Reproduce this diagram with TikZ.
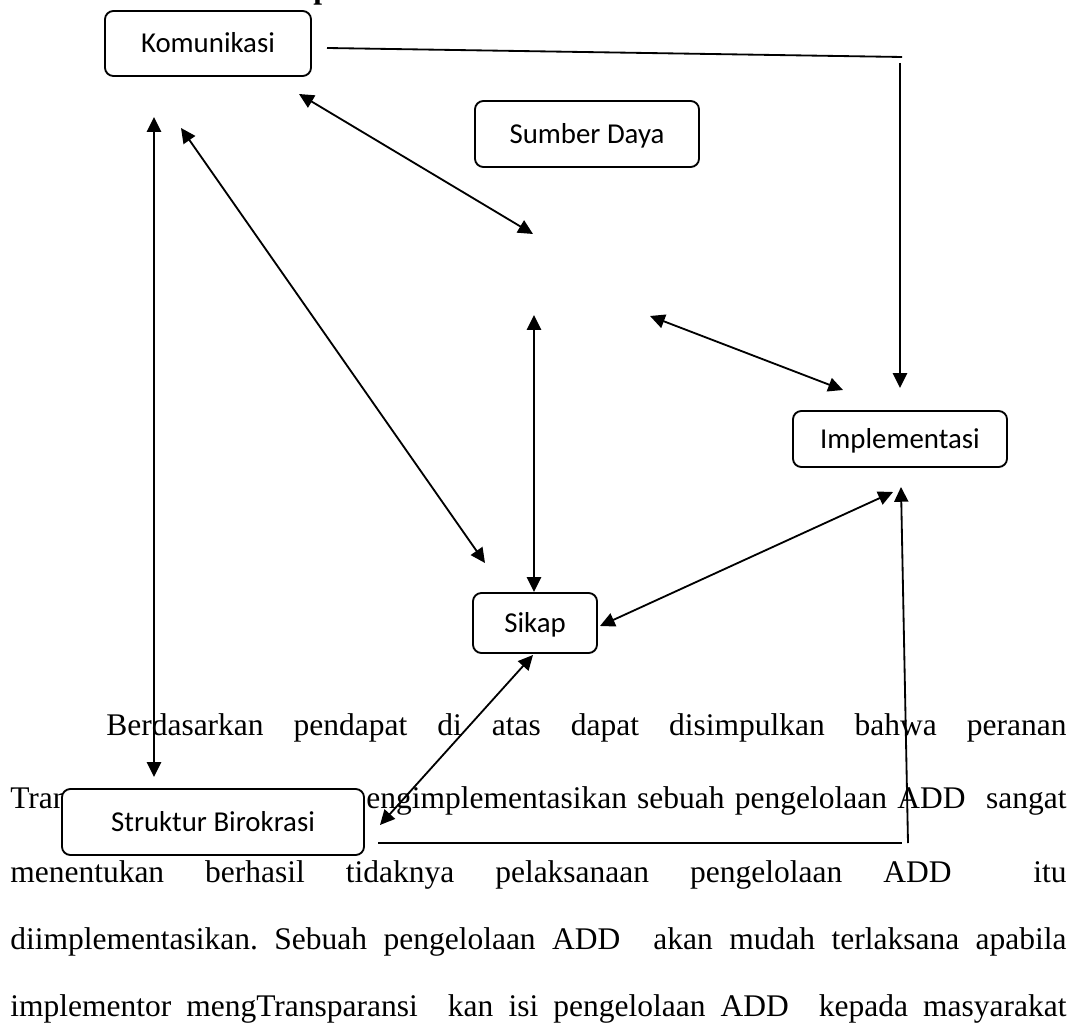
\documentclass[tikz,border=0pt]{standalone}
\usepackage{fontspec}
\setmainfont{Liberation Serif}
\newfontfamily\boxfont{Carlito}
\usepackage{tikz}
\usetikzlibrary{arrows.meta}
\tikzstyle{box} = [rectangle, rounded corners=6pt, draw=black, fill=white, line width=1.3pt, inner sep=0pt, text height=13.2pt, text depth=0pt, font=\boxfont\fontsize{20.5pt}{24pt}\selectfont]
\tikzstyle{para} = [anchor=base west, inner sep=0pt, font=\frenchspacing\fontsize{22.4pt}{26pt}\selectfont]
\tikzstyle{arrow} = [line width=1.3pt, -{Triangle[length=10.5pt,width=10pt]}]
\tikzstyle{twoway} = [line width=1.3pt, {Triangle[length=10.5pt,width=10pt]}-{Triangle[length=10.5pt,width=10pt]}]
\tikzstyle{link} = [line width=1.3pt, -]

\begin{document}
\begin{tikzpicture}[x=0.025cm, y=-0.025cm]
                    \useasboundingbox (0,0) rectangle (1078,1036);
                    \node [anchor=base west, inner sep=0pt, font=\bfseries\fontsize{22.4pt}{26pt}\selectfont] (head) at (313,-1) {p};
                    \node [para] (l1) at (106,735) {\makebox[24cm][s]{Berdasarkan pendapat di atas dapat disimpulkan bahwa peranan}};
                    \node [para] (l2a) at (10,808) {Tran};
                    \node [para] (l2b) at (366,808) {\makebox[17.5cm][s]{engimplementasikan sebuah pengelolaan ADD\ \ sangat}};
                    \node [para] (l3) at (10,882) {\makebox[26.4cm][s]{menentukan berhasil tidaknya pelaksanaan pengelolaan ADD\ \ itu}};
                    \node [para] (l4) at (10,949) {\makebox[26.4cm][s]{diimplementasikan. Sebuah pengelolaan ADD\ \ akan mudah terlaksana apabila}};
                    \node [para] (l5) at (10,1016) {\makebox[26.4cm][s]{implementor mengTransparansi\ \ kan isi pengelolaan ADD\ \ kepada masyarakat}};
                    \node [box, minimum width=5.15cm, minimum height=1.625cm] (kom) at (208,43.5) {Komunikasi};
                    \node [box, minimum width=5.6cm, minimum height=1.65cm] (sd) at (587,134) {Sumber Daya};
                    \node [box, minimum width=5.35cm, minimum height=1.4cm] (imp) at (900,439) {Implementasi};
                    \node [box, minimum width=3.1cm, minimum height=1.5cm] (sik) at (535,623) {Sikap};
                    \node [box, minimum width=7.55cm, minimum height=1.65cm] (sb) at (213,822) {Struktur Birokrasi};
                    \coordinate (komR) at (327,48);
                    \coordinate (topR) at (902,57);
                    \coordinate (topV) at (900,63);
                    \coordinate (impT) at (900,388);
                    \coordinate (komA) at (299,94);
                    \coordinate (midA) at (533,234);
                    \coordinate (komB) at (181,128);
                    \coordinate (sikB) at (485,563);
                    \coordinate (komC) at (154,117);
                    \coordinate (sbC) at (154,777);
                    \coordinate (midD) at (534,315);
                    \coordinate (sikD) at (534,592);
                    \coordinate (midE) at (650,316);
                    \coordinate (impE) at (843,390);
                    \coordinate (sikF) at (600,626);
                    \coordinate (impF) at (893,492);
                    \coordinate (sbG) at (380,825);
                    \coordinate (sikG) at (533,655);
                    \coordinate (sbR) at (378,843);
                    \coordinate (botR) at (902,843);
                    \coordinate (botV) at (908,843);
                    \coordinate (impB) at (901,487);
                    \draw [link] (komR) -- (topR);
                    \draw [arrow] (topV) -- (impT);
                    \draw [twoway] (komA) -- (midA);
                    \draw [twoway] (komB) -- (sikB);
                    \draw [twoway] (komC) -- (sbC);
                    \draw [twoway] (midD) -- (sikD);
                    \draw [twoway] (midE) -- (impE);
                    \draw [twoway] (sikF) -- (impF);
                    \draw [twoway] (sbG) -- (sikG);
                    \draw [link] (sbR) -- (botR);
                    \draw [arrow] (botV) -- (impB);
                \end{tikzpicture}
\end{document}
